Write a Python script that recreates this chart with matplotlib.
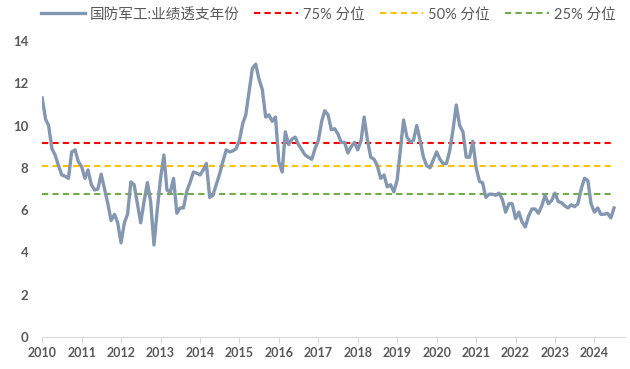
import numpy as np
import pandas as pd
import matplotlib
matplotlib.use("Agg")
import matplotlib.pyplot as plt
import matplotlib.dates as mdates

plt.rcParams['font.family'] = ['Lato', 'Noto Sans CJK SC', 'DejaVu Sans']

# monthly series, Jan 2010 - Jul 2024
values = [
    11.3, 10.3, 10.0, 8.9, 8.6, 8.1, 7.66, 7.6, 7.5, 8.75, 8.85, 8.3,
    8.05, 7.5, 7.9, 7.2, 6.95, 7.0, 7.7, 7.0, 6.3, 5.5, 5.8, 5.4,
    4.45, 5.4, 5.8, 7.33, 7.2, 6.3, 5.4, 6.4, 7.3, 6.4, 4.35, 6.0,
    7.5, 8.6, 6.95, 6.85, 7.5, 5.85, 6.1, 6.1, 6.9, 7.3, 7.8, 7.75,
    7.66, 7.9, 8.2, 6.6, 6.7, 7.2, 7.7, 8.3, 8.85, 8.75, 8.8, 8.9,
    9.3, 10.1, 10.5, 11.6, 12.7, 12.9, 12.2, 11.7, 10.4, 10.5, 10.2, 10.4,
    8.3, 7.8, 9.7, 9.1, 9.35, 9.45, 9.1, 8.85, 8.6, 8.5, 8.4, 8.9,
    9.3, 10.2, 10.7, 10.5, 9.8, 9.85, 9.6, 9.2, 9.2, 8.7, 9.0, 9.2,
    8.85, 9.3, 10.4, 9.3, 8.5, 8.4, 8.1, 7.5, 7.66, 7.1, 7.2, 6.86,
    7.43, 8.9, 10.26, 9.46, 9.22, 9.3, 10.0, 9.3, 8.5, 8.1, 8.0, 8.37,
    8.75, 8.4, 8.2, 8.2, 8.8, 9.8, 10.97, 10.0, 9.7, 8.5, 8.5, 9.25,
    8.0, 7.35, 7.3, 6.6, 6.75, 6.75, 6.7, 6.8, 6.5, 5.9, 6.3, 6.3,
    5.6, 5.9, 5.45, 5.2, 5.7, 6.05, 6.05, 5.85, 6.2, 6.7, 6.3, 6.45,
    6.8, 6.4, 6.35, 6.2, 6.1, 6.25, 6.16, 6.3, 7.0, 7.5, 7.4, 6.3,
    5.9, 6.1, 5.8, 5.8, 5.85, 5.63, 6.1,
]
dates = pd.date_range("2010-01-01", periods=len(values), freq="MS")

p75 = 9.18
p50 = 8.1
p25 = 6.78

series_name = "国防军工:业绩透支年份"
years = list(range(2010, 2025))

fig = plt.figure(figsize=(6.3, 3.69), dpi=100)
ax = fig.add_axes([0.067, 0.087, 0.925, 0.802])

ax.plot(dates, values, color="#8497b0", lw=2.4, label=series_name, zorder=3)
ax.plot([dates[0], dates[-1]], [p75, p75], color="#ff0000", lw=1.5,
        ls=(0, (3, 2)), label="75% 分位", zorder=2)
ax.plot([dates[0], dates[-1]], [p50, p50], color="#ffc000", lw=1.5,
        ls=(0, (3, 2)), label="50% 分位", zorder=2)
ax.plot([dates[0], dates[-1]], [p25, p25], color="#70ad47", lw=1.5,
        ls=(0, (3, 2)), label="25% 分位", zorder=2)

ax.set_ylim(0, 14)
ax.set_yticks(range(0, 15, 2))
ax.set_xlim(pd.Timestamp("2010-01-01"), pd.Timestamp("2024-10-10"))
ax.set_xticks([pd.Timestamp(f"{y}-01-01") for y in years])
ax.xaxis.set_major_formatter(mdates.DateFormatter("%Y"))

for s in ["top", "right", "left"]:
    ax.spines[s].set_visible(False)
ax.spines["bottom"].set_color("#d9d9d9")
ax.tick_params(axis="y", length=0, pad=10, labelsize=9.5, labelcolor="#595959")
ax.tick_params(axis="x", length=4, color="#d9d9d9", pad=3, labelsize=9,
               labelcolor="#595959")
for lab in ax.get_xticklabels() + ax.get_yticklabels():
    lab.set_fontweight("bold")

fig.legend(loc="upper center", bbox_to_anchor=(0.521, 1.015), ncol=4,
           frameon=False, fontsize=10.5, handlelength=3.0, columnspacing=1.0,
           handletextpad=0.35, labelcolor="#595959")

fig.savefig("out.png", dpi=100)
